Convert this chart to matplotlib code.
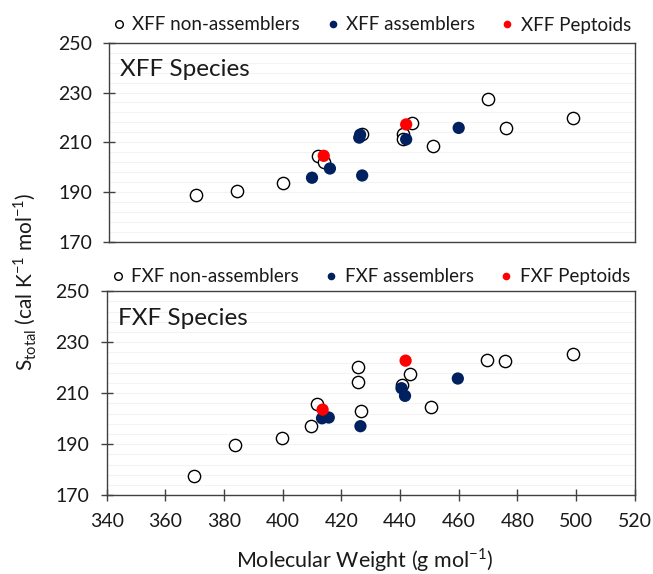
import matplotlib
matplotlib.use('Agg')
import matplotlib.pyplot as plt
from matplotlib.lines import Line2D
import numpy as np

plt.rcParams['font.family'] = ['Lato', 'DejaVu Sans']
plt.rcParams['mathtext.fontset'] = 'custom'
plt.rcParams['mathtext.rm'] = 'Lato'

# ---- XFF species ----
xff_non_mw = [370.4, 384.3, 400.2, 412.0, 414.0, 426.9, 444.1, 440.9, 440.9, 451.1, 469.9, 476.0, 499.0]
xff_non_s = [188.7, 190.3, 193.6, 204.4, 202.3, 213.5, 217.8, 213.5, 211.5, 208.4, 227.6, 215.8, 219.9]
xff_asm_mw = [410.0, 416.1, 426.4, 426.1, 427.1, 442.1, 460.0]
xff_asm_s = [195.8, 199.5, 213.1, 211.9, 196.7, 211.2, 215.8]
xff_pep_mw = [414.0, 442.1]
xff_pep_s = [204.6, 217.2]

# ---- FXF species ----
fxf_non_mw = [369.8, 383.7, 399.6, 409.6, 411.6, 425.6, 425.6, 426.6, 443.5, 440.5, 450.6, 469.8, 475.9, 499.0]
fxf_non_s = [177.7, 189.9, 192.4, 197.3, 205.9, 220.3, 214.5, 203.2, 217.7, 213.2, 204.6, 223.2, 222.7, 225.5]
fxf_asm_mw = [413.4, 415.7, 426.5, 440.5, 441.7, 459.7]
fxf_asm_s = [200.2, 200.5, 197.1, 212.0, 209.0, 215.8]
fxf_pep_mw = [413.6, 441.9]
fxf_pep_s = [203.6, 222.8]

x_ticks = [340, 360, 380, 400, 420, 440, 460, 480, 500, 520]
y_ticks = [170, 190, 210, 230, 250]

NAVY = '#002060'
RED = '#FF0000'
SPINE = '#404040'
TXT = '#1a1a1a'

W, H = 653, 574
fig = plt.figure(figsize=(W / 100, H / 100), dpi=100)

ax1 = fig.add_axes([109.3 / W, 1 - 242 / H, (634.7 - 109.3) / W, (242 - 42.7) / H])
ax2 = fig.add_axes([106.7 / W, 1 - 495.3 / H, (634.7 - 106.7) / W, (495.3 - 291.3) / H])

S = 78


def draw(ax, non_mw, non_s, asm_mw, asm_s, pep_mw, pep_s, title, xlim):
    ax.set_xlim(*xlim)
    ax.set_ylim(170, 250)
    for yv in np.arange(170, 251, 4):
        ax.axhline(yv, color='#f3f3f3', lw=0.8, zorder=0)
    ax.scatter(non_mw, non_s, s=S, facecolors='white', edgecolors='black', linewidths=1.0, zorder=3)
    ax.scatter(asm_mw, asm_s, s=S, color=NAVY, edgecolors='none', zorder=4)
    ax.scatter(pep_mw, pep_s, s=S, color=RED, edgecolors='none', zorder=5)
    for sp in ax.spines.values():
        sp.set_color(SPINE)
        sp.set_linewidth(1.0)
    ax.set_yticks(y_ticks)
    ax.tick_params(axis='both', direction='inout', length=9, width=1.0, color=SPINE,
                   labelsize=14, labelcolor=TXT, pad=8)
    ax.text(0.021, 0.833, title, transform=ax.transAxes, fontsize=17.5, color=TXT, va='baseline')


draw(ax1, xff_non_mw, xff_non_s, xff_asm_mw, xff_asm_s, xff_pep_mw, xff_pep_s, 'XFF Species', (340.9, 520))
ax1.set_xticks([])
draw(ax2, fxf_non_mw, fxf_non_s, fxf_asm_mw, fxf_asm_s, fxf_pep_mw, fxf_pep_s, 'FXF Species', (340, 520))
ax2.set_xticks(x_ticks)


def legend(prefix, cx, cy):
    handles = [
        Line2D([], [], ls='', marker='o', ms=5.5, mfc='white', mec='black', mew=1.0),
        Line2D([], [], ls='', marker='o', ms=5.5, mfc=NAVY, mec=NAVY, mew=0),
        Line2D([], [], ls='', marker='o', ms=5.5, mfc=RED, mec=RED, mew=0),
    ]
    labels = [prefix + ' non-assemblers', prefix + ' assemblers', prefix + ' Peptoids']
    fig.legend(handles, labels, loc='center', bbox_to_anchor=(cx / W, 1 - cy / H), ncol=3,
               frameon=False, fontsize=13.5, handlelength=0.6, handletextpad=0.4,
               columnspacing=1.45, borderpad=0, borderaxespad=0, labelcolor=TXT)


legend('XFF', 372, 25)
legend('FXF', 371, 277)

fig.text(365 / W, 1 - 568 / H, r'Molecular Weight (g mol$^{\mathregular{-1}}$)',
         ha='center', va='baseline', fontsize=15.5, color=TXT)
fig.text(25 / W, 1 - 281.7 / H,
         r'S$_{\mathregular{total}}$ (cal K$^{\mathregular{-1}}$ mol$^{\mathregular{-1}}$)',
         ha='center', va='center', rotation=90, fontsize=15, color=TXT)

fig.savefig('out.png', dpi=100)
